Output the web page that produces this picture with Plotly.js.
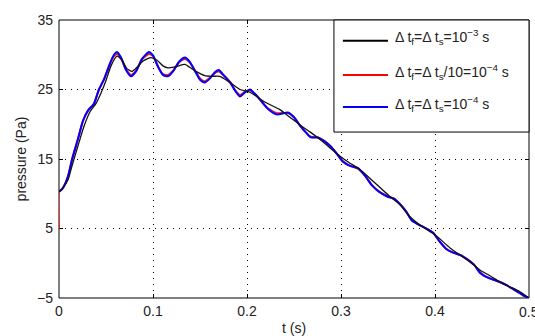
<!DOCTYPE html>
<html>
<head>
<meta charset="utf-8">
<script src="https://cdn.plot.ly/plotly-3.0.1.min.js"></script>
<style>html,body{margin:0;padding:0;background:#fff;}#chart{width:535px;height:336px;}</style>
</head>
<body>
<div id="chart"></div>
<script>
// dt_f = dt_s = 1e-3 s (black)
const tBlack = [0, 0.004, 0.0096, 0.0138, 0.020, 0.0266, 0.033, 0.0394, 0.0447, 0.050, 0.0553, 0.0617, 0.067, 0.0723, 0.0777, 0.083, 0.0894, 0.098, 0.1043, 0.1106, 0.116, 0.1245, 0.134, 0.139, 0.1457, 0.155, 0.163, 0.171, 0.182, 0.1926, 0.203, 0.219, 0.235, 0.2457, 0.2564, 0.267, 0.2777, 0.2883, 0.299, 0.3096, 0.3202, 0.3309, 0.3415, 0.352, 0.3628, 0.3734, 0.384, 0.400, 0.416, 0.4266, 0.4372, 0.448, 0.4585, 0.469, 0.4798, 0.4904, 0.500];
const pBlack = [10.3, 10.8, 12.0, 14.0, 16.8, 19.7, 21.8, 23.0, 24.5, 26.3, 28.4, 29.8, 29.2, 28.0, 27.6, 28.2, 29.1, 29.6, 29.2, 28.4, 28.1, 28.3, 28.6, 28.2, 27.6, 27.0, 26.9, 26.9, 26.0, 25.0, 24.6, 23.2, 22.1, 21.0, 19.9, 18.9, 17.8, 16.6, 15.4, 14.4, 13.5, 12.2, 10.9, 9.6, 8.4, 6.7, 5.5, 4.1, 2.2, 1.2, 0.2, -1.0, -1.8, -2.7, -3.4, -4.1, -5.0];

// dt_f = dt_s/10 = 1e-4 s (red)
const tRed = [0, 0.0001, 0.002, 0.005, 0.0096, 0.0138, 0.020, 0.0255, 0.031, 0.037, 0.0425, 0.048, 0.054, 0.0585, 0.0617, 0.066, 0.0713, 0.0766, 0.082, 0.0883, 0.0957, 0.100, 0.1053, 0.1106, 0.116, 0.1213, 0.1277, 0.134, 0.139, 0.1457, 0.150, 0.155, 0.1606, 0.166, 0.170, 0.1755, 0.182, 0.188, 0.1926, 0.198, 0.203, 0.2096, 0.216, 0.2223, 0.232, 0.2436, 0.250, 0.2564, 0.2628, 0.268, 0.2755, 0.282, 0.2883, 0.2947, 0.302, 0.3096, 0.318, 0.3255, 0.333, 0.3404, 0.349, 0.3564, 0.3628, 0.369, 0.3755, 0.382, 0.388, 0.398, 0.405, 0.4117, 0.418, 0.4266, 0.434, 0.4415, 0.448, 0.455, 0.4628, 0.469, 0.4766, 0.483, 0.4904, 0.4947, 0.500];
const pRed = [5.0, 10.3, 10.5, 11.0, 12.5, 14.9, 17.8, 20.5, 22.0, 22.9, 25.0, 26.5, 28.6, 29.8, 30.1, 29.5, 27.9, 27.1, 27.7, 29.3, 30.1, 29.8, 28.3, 27.2, 27.1, 27.7, 28.9, 29.4, 28.9, 27.5, 26.6, 26.2, 26.7, 27.4, 27.6, 27.0, 26.1, 24.8, 24.2, 24.7, 24.9, 24.2, 23.2, 22.3, 21.6, 21.6, 21.0, 19.8, 18.8, 18.2, 18.1, 17.6, 16.9, 15.9, 14.7, 14.0, 13.6, 12.6, 11.2, 10.3, 9.7, 9.3, 8.5, 7.5, 6.2, 5.6, 5.2, 4.4, 3.1, 2.1, 1.6, 1.2, 0.6, -0.2, -1.3, -2.0, -2.4, -2.7, -3.2, -3.7, -4.3, -4.7, -5.0];

// dt_f = dt_s = 1e-4 s (blue)
const tBlue = [0, 0.002, 0.005, 0.0096, 0.0138, 0.020, 0.0255, 0.031, 0.037, 0.0425, 0.048, 0.054, 0.0585, 0.0617, 0.066, 0.0713, 0.0766, 0.082, 0.0883, 0.0957, 0.100, 0.1053, 0.1106, 0.116, 0.1213, 0.1277, 0.134, 0.139, 0.1457, 0.150, 0.155, 0.1606, 0.166, 0.170, 0.1755, 0.182, 0.188, 0.1926, 0.198, 0.203, 0.2096, 0.216, 0.2223, 0.232, 0.2436, 0.250, 0.2564, 0.2628, 0.268, 0.2755, 0.282, 0.2883, 0.2947, 0.302, 0.3096, 0.318, 0.3255, 0.333, 0.3404, 0.349, 0.3564, 0.3628, 0.369, 0.3755, 0.382, 0.388, 0.398, 0.405, 0.4117, 0.418, 0.4266, 0.434, 0.4415, 0.448, 0.455, 0.4628, 0.469, 0.4766, 0.483, 0.4904, 0.4947, 0.500];
const pBlue = [10.3, 10.5, 11.0, 12.5, 14.9, 17.8, 20.5, 22.0, 22.9, 25.0, 26.5, 28.7, 30.0, 30.4, 29.6, 27.8, 26.9, 27.6, 29.4, 30.4, 29.9, 28.3, 27.1, 26.9, 27.6, 29.0, 29.6, 29.0, 27.4, 26.4, 26.0, 26.6, 27.5, 27.8, 27.0, 26.0, 24.7, 24.0, 24.6, 25.0, 24.2, 23.2, 22.2, 21.4, 21.7, 21.0, 19.8, 18.8, 18.1, 18.1, 17.6, 16.9, 15.9, 14.6, 14.0, 13.7, 12.6, 11.2, 10.3, 9.6, 9.3, 8.5, 7.5, 6.1, 5.6, 5.2, 4.4, 3.1, 2.1, 1.6, 1.2, 0.6, -0.2, -1.4, -2.0, -2.4, -2.7, -3.2, -3.7, -4.3, -4.7, -5.0];

const legendLabels = [
  'Δ t<sub>f</sub>=Δ t<sub>s</sub>=10<sup>−3</sup> s',
  'Δ t<sub>f</sub>=Δ t<sub>s</sub>/10=10<sup>−4</sup> s',
  'Δ t<sub>f</sub>=Δ t<sub>s</sub>=10<sup>−4</sup> s'
];
const legendColors = ['#000000', '#ff0000', '#0000ff'];
const xTicks = [0, 0.1, 0.2, 0.3, 0.4];
const xLastTick = 0.5;
const yTicks = [-5, 5, 15, 25, 35];

const traces = [
  {x: tRed, y: pRed, mode: 'lines', line: {color: '#ff1a1a', width: 2, shape: 'spline', smoothing: 0.6}},
  {x: tBlue, y: pBlue, mode: 'lines', line: {color: '#0000ff', width: 2, shape: 'spline', smoothing: 0.6}},
  {x: tBlack, y: pBlack, mode: 'lines', line: {color: '#111111', width: 1.3, shape: 'spline', smoothing: 0.6}}
];

const font = {family: 'Liberation Sans, Arial, sans-serif', size: 14, color: '#222'};

// plot frame (drawn below the curves so the red start segment on t=0 shows)
const shapes = [{type: 'rect', xref: 'paper', yref: 'paper', x0: 0, x1: 1, y0: 0, y1: 1,
  line: {color: '#000', width: 1}, layer: 'below'}];
// legend box built from shapes and annotations
const lx0 = 0.585, lx1 = 1, ly0 = 0.597, ly1 = 1;
const entryY = [0.9255, 0.802, 0.687];
shapes.push({type: 'rect', xref: 'paper', yref: 'paper', x0: lx0, x1: lx1, y0: ly0, y1: ly1,
  fillcolor: '#ffffff', line: {color: '#000', width: 1}, layer: 'above'});
const annotations = [];
legendLabels.forEach((lab, i) => {
  shapes.push({type: 'line', xref: 'paper', yref: 'paper', x0: 0.604, x1: 0.700, y0: entryY[i], y1: entryY[i],
    line: {color: legendColors[i], width: 2}, layer: 'above'});
  annotations.push({xref: 'paper', yref: 'paper', x: 0.711, y: entryY[i] + 0.012, xanchor: 'left', yanchor: 'middle',
    text: lab, showarrow: false, font: {family: font.family, size: 14, color: '#222'}});
});
// last x tick label, cut by the page edge as in the original
annotations.push({xref: 'x', yref: 'paper', x: xLastTick, y: 0, yshift: -4, xanchor: 'center', yanchor: 'top',
  text: String(xLastTick), showarrow: false, font: font});

const axisCommon = {
  showline: false, mirror: 'ticks',
  ticks: 'inside', ticklen: 4, tickcolor: '#000',
  showgrid: true, gridcolor: '#000', gridwidth: 1, griddash: '1px,5px',
  zeroline: false, tickfont: font, layer: 'below traces'
};

const layout = {
  width: 535, height: 336,
  margin: {l: 59, r: 6, t: 20, b: 38},
  paper_bgcolor: '#fff', plot_bgcolor: '#fff',
  showlegend: false,
  font: font,
  xaxis: Object.assign({}, axisCommon, {range: [0, 0.5], tickvals: xTicks.concat([xLastTick]),
    ticktext: xTicks.map(String).concat(['']), ticklabelstandoff: 3,
    title: {text: 't (s)', font: font, standoff: 8}}),
  yaxis: Object.assign({}, axisCommon, {range: [-5, 35], tickvals: yTicks, ticklabelstandoff: 5,
    title: {text: 'pressure (Pa)', font: font, standoff: 7}}),
  shapes: shapes,
  annotations: annotations
};

Plotly.newPlot('chart', traces, layout, {staticPlot: true, displayModeBar: false});
</script>
</body>
</html>
